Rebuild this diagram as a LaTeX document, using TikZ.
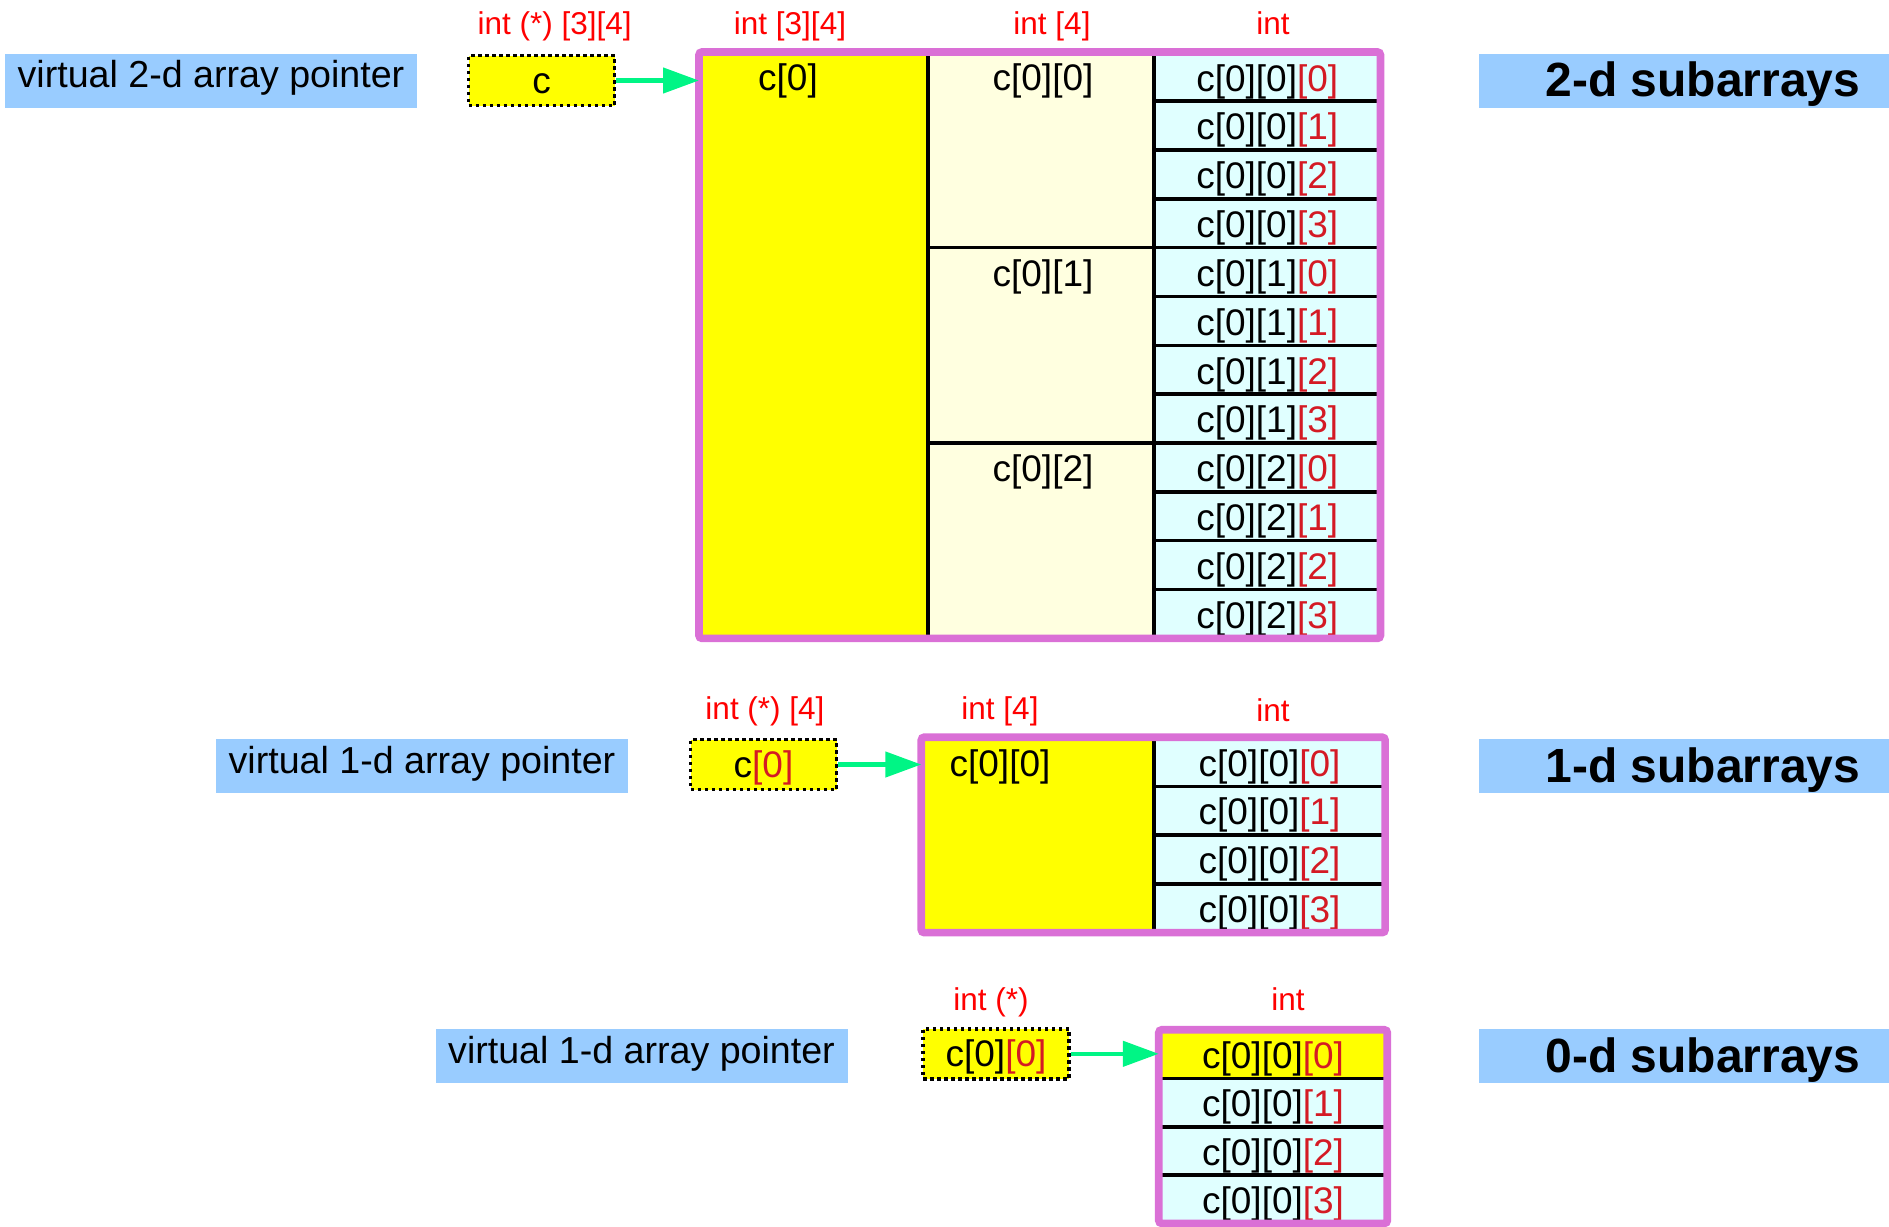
\documentclass[tikz,border=0pt]{standalone}
\usepackage{fontspec}
\setmainfont{Liberation Sans}
\usetikzlibrary{positioning,arrows.meta}
\definecolor{orchidbox}{HTML}{DA70D6}
\definecolor{lblue}{HTML}{99CCFF}
\definecolor{pyellow}{HTML}{FFFF00}
\definecolor{lyellow}{HTML}{FFFFE0}
\definecolor{lcyan}{HTML}{E0FFFF}
\definecolor{typred}{HTML}{FF0000}
\definecolor{idxred}{HTML}{D41A24}
\definecolor{arrgreen}{HTML}{00F585}
\newcommand{\rix}[1]{\textcolor{idxred}{#1}}

\begin{document}
\begin{tikzpicture}[x=1pt,y=-1pt,
  lbl/.style={fill=lblue,inner sep=0pt,minimum width=412pt,minimum height=54pt,text height=27pt,text depth=12.6pt,font=\fontsize{37.6}{44}\selectfont},
  ttl/.style={lbl,minimum width=448pt,text height=36pt,text depth=4pt,font=\fontsize{48}{56}\selectfont\bfseries},
  ptr/.style={draw,fill=pyellow,line width=3.5pt,dash pattern=on 3.5pt off 3.5pt,minimum width=146pt,minimum height=50pt,
    inner sep=0pt,text height=34pt,text depth=8pt,font=\fontsize{37}{44}\selectfont},
  typ/.style={anchor=base,text=typred,inner sep=0pt,font=\fontsize{31.5}{38}\selectfont},
  txt/.style={anchor=base,inner sep=0pt,font=\fontsize{37}{44}\selectfont},
  cell/.style={fill=lcyan,anchor=north west,inner sep=0pt,text height=34.8pt,text depth=6pt,font=\fontsize{37}{44}\selectfont},
  whole/.style={fill=pyellow,anchor=north west,inner sep=0pt},
  part/.style={fill=lyellow,anchor=north west,inner sep=0pt},
  rowline/.style={draw=black,line width=3.5pt},
  colline/.style={draw=black,line width=4pt},
  outline/.style={draw=orchidbox,line width=7.7pt,rounded corners=3pt},
  ptrarrow/.style={draw=arrgreen,line width=4.5pt,-{Triangle[length=36pt,width=25pt]}}]
\useasboundingbox (0,0) rectangle (1889,1226);
\clip (0,0) rectangle (1889,1226);

% 2-d subarrays
\node[lbl] (v2) at (211,80.5) {virtual 2-d array pointer};
\node[ttl] (t2) at (1703,80.5) {2-d subarrays};
\node[ptr] (p2) at (541.5,80.5) {c};
\node[whole,minimum width=229pt,minimum height=586pt] (a2) at (699,52) {};
\foreach \j in {0,1,2}
  \node[part,minimum width=226pt,minimum height=195.33pt] (b\j) at (928,{52+195.33*\j}) {};
\foreach \j in {0,1,2}
  \foreach \k in {0,...,3}
    \node[cell,minimum width=226pt,minimum height=48.83pt] (e\j\k) at (1154,{52+48.83*(4*\j+\k)}) {c[0][\j]\rix{[\k]}};
\foreach \j in {0,1,2}
  \foreach \k in {0,...,3}
    \draw[rowline] (e\j\k.south west) -- (e\j\k.south east);
\draw[rowline] (b0.south west) -- (b0.south east);
\draw[rowline] (b1.south west) -- (b1.south east);
\draw[colline] (a2.north east) -- (a2.south east);
\draw[colline] (b0.north east) -- (b2.south east);
\node[txt] (n2) at (788,90.8) {c[0]};
\node[txt] (n20) at (1043,90.8) {c[0][0]};
\node[txt] (n21) at (1043,286.2) {c[0][1]};
\node[txt] (n22) at (1043,481.5) {c[0][2]};
\draw[outline] (a2.north west) rectangle (e23.south east);
\draw[ptrarrow] (p2.east) -- (p2.east -| a2.west);
\node[typ] (y2a) at (554.7,34) {int (*) [3][4]};
\node[typ] (y2b) at (790,34) {int [3][4]};
\node[typ] (y2c) at (1052,34) {int [4]};
\node[typ] (y2d) at (1273,34) {int};

% 1-d subarrays
\node[lbl] (v1) at (422,766) {virtual 1-d array pointer};
\node[ttl] (t1) at (1703,766) {1-d subarrays};
\node[ptr] (p1) at (763.5,764.5) {c\rix{[0]}};
\node[whole,minimum width=232.7pt,minimum height=195pt] (a1) at (921.3,737.2) {};
\foreach \k in {0,...,3}
  \node[cell,minimum width=230.7pt,minimum height=48.75pt] (f\k) at (1154,{737.2+48.75*\k}) {c[0][0]\rix{[\k]}};
\foreach \k in {0,...,3}
  \draw[rowline] (f\k.south west) -- (f\k.south east);
\draw[colline] (a1.north east) -- (a1.south east);
\node[txt] (n1) at (1000,776) {c[0][0]};
\draw[outline] (a1.north west) rectangle (f3.south east);
\draw[ptrarrow] (p1.east) -- (p1.east -| a1.west);
\node[typ] (y1a) at (765,719) {int (*) [4]};
\node[typ] (y1b) at (1000,719) {int [4]};
\node[typ] (y1c) at (1273,721) {int};

% 0-d subarrays
\node[lbl] (v0) at (641.5,1056) {virtual 1-d array pointer};
\node[ttl] (t0) at (1703,1056) {0-d subarrays};
\node[ptr] (p0) at (996,1053.8) {c[0]\rix{[0]}};
\foreach \k in {0,...,3}
  \node[cell,minimum width=228.1pt,minimum height=48.3pt] (g\k) at (1158.8,{1029.8+48.3*\k}) {c[0][0]\rix{[\k]}};
\node[cell,fill=pyellow,minimum width=228.1pt,minimum height=48.3pt] (g0) at (1158.8,1029.8) {c[0][0]\rix{[0]}};
\foreach \k in {0,...,3}
  \draw[rowline] (g\k.south west) -- (g\k.south east);
\draw[outline] (g0.north west) rectangle (g3.south east);
\draw[ptrarrow] (p0.east) -- (p0.east -| g0.west);
\node[typ] (y0a) at (991,1010) {int (*)};
\node[typ] (y0b) at (1288,1010) {int};
\end{tikzpicture}
\end{document}
